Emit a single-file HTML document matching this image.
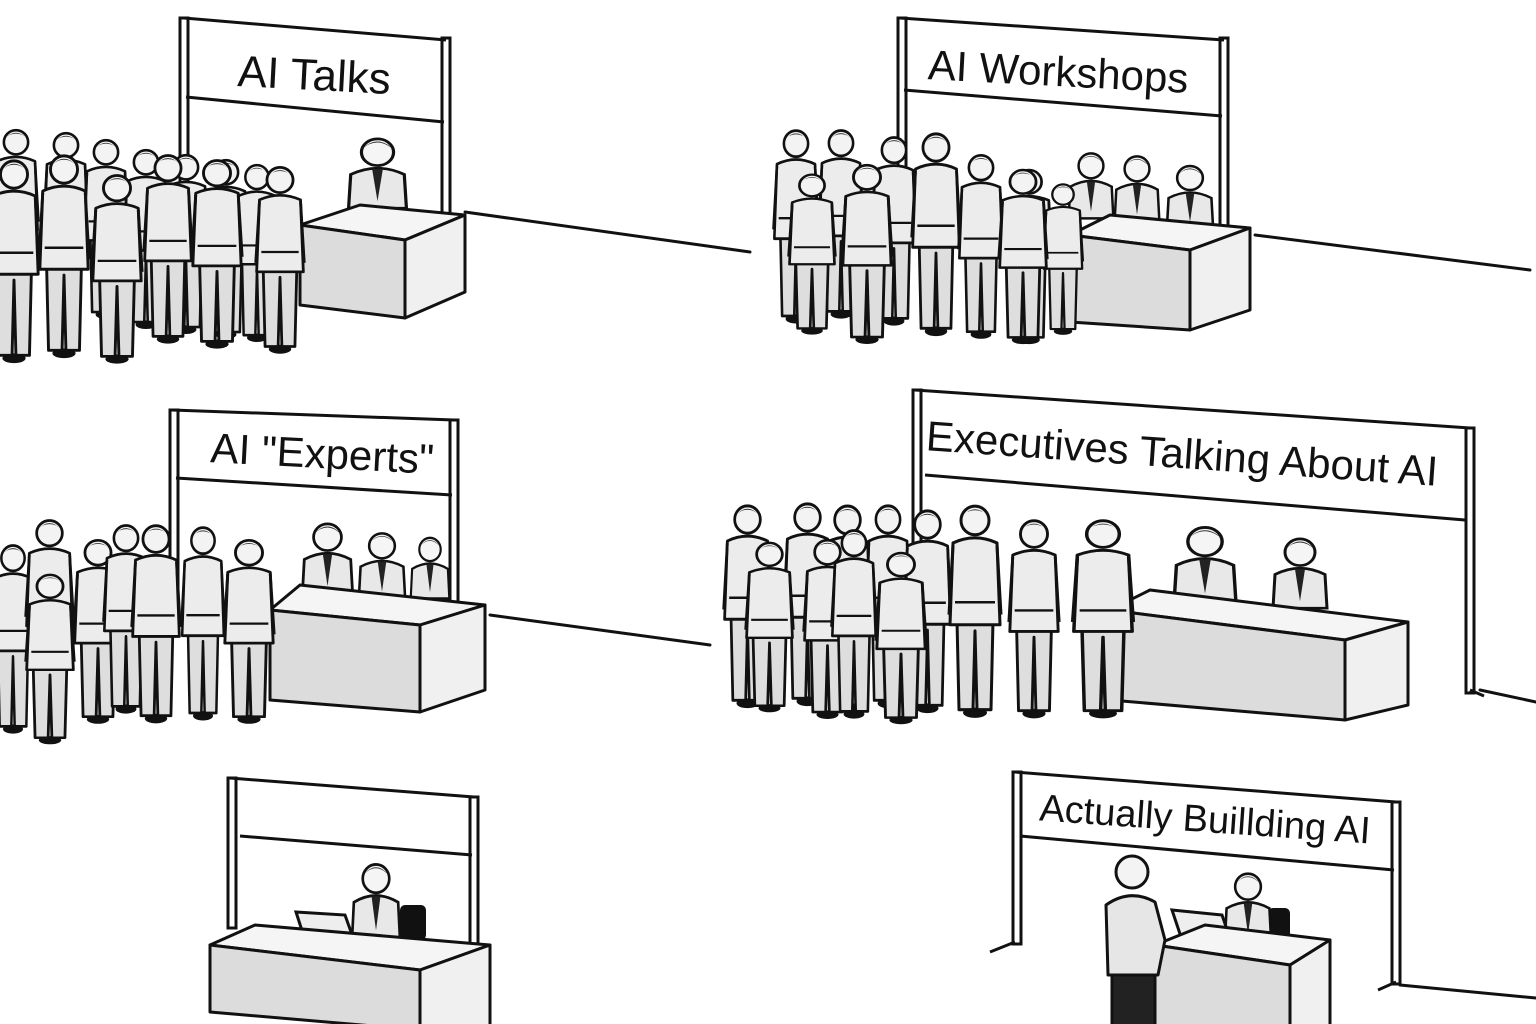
<!DOCTYPE html>
<html><head><meta charset="utf-8"><style>
html,body{margin:0;padding:0;background:#fff;}
svg{display:block;}
text{font-family:"Liberation Sans",sans-serif;fill:#111;}
</style></head><body>
<svg width="1536" height="1024" viewBox="0 0 1536 1024" xmlns="http://www.w3.org/2000/svg">
<defs>
<symbol id="p" viewBox="0 0 60 220" preserveAspectRatio="none">
  <ellipse cx="30" cy="208" rx="12" ry="5" fill="#111"/>
  <path d="M12 118 L14 205 L28 205 L30 128 L32 205 L46 205 L48 118 Z" fill="#dedede" stroke="#111" stroke-width="3" stroke-linejoin="round"/>
  <path d="M8 42 Q30 32 52 42 L55 122 L5 122 Z" fill="#ececec" stroke="#111" stroke-width="3" stroke-linejoin="round"/>
  <path d="M8 44 L4 112 M52 44 L56 112" stroke="#111" stroke-width="3" fill="none"/>
  <line x1="10" y1="100" x2="50" y2="100" stroke="#111" stroke-width="2.5"/>
  <circle cx="30" cy="20" r="14" fill="#f3f3f3" stroke="#111" stroke-width="3"/>
  <path d="M17 16 Q30 2 43 16 Q38 10 30 10 Q22 10 17 16Z" fill="#333"/>
</symbol>
<symbol id="s" viewBox="0 0 70 90" preserveAspectRatio="none">
  <path d="M8 88 L10 50 Q35 36 60 50 L62 88 Z" fill="#e8e8e8" stroke="#111" stroke-width="3"/>
  <path d="M30 44 L35 80 L40 44" fill="#222"/>
  <circle cx="35" cy="25" r="15" fill="#f5f5f5" stroke="#111" stroke-width="3"/>
  <path d="M20 22 Q35 4 50 22 Q42 14 35 14 Q27 14 20 22Z" fill="#333"/>
</symbol>
</defs>
<g stroke="#111" stroke-width="3" fill="none" stroke-linecap="round">
  <!-- floor lines -->
  <line x1="465" y1="212" x2="750" y2="252"/>
  <line x1="1255" y1="235" x2="1530" y2="270"/>
  <line x1="490" y1="615" x2="710" y2="645"/>
  <line x1="1480" y1="690" x2="1536" y2="702"/>
  <line x1="1400" y1="985" x2="1536" y2="998"/>
</g>

<!-- Booth 1 -->
<g stroke="#111" stroke-width="3">
  <rect x="180" y="18" width="8" height="204" fill="#fff"/>
  <rect x="442" y="38" width="8" height="187" fill="#fff"/>
  <line x1="184" y1="18" x2="446" y2="40"/>
  <line x1="186" y1="97" x2="444" y2="122"/>
</g>
<text x="314" y="90" font-size="44" text-anchor="middle" transform="rotate(3 314 80)">AI Talks</text>
<use href="#s" x="340" y="130" width="75" height="80"/>
<g stroke="#111" stroke-width="3" stroke-linejoin="round">
  <polygon points="300,225 360,205 465,215 405,240" fill="#f5f5f5"/>
  <polygon points="300,225 405,240 405,318 300,305" fill="#dcdcdc"/>
  <polygon points="405,240 465,215 465,292 405,318" fill="#f0f0f0"/>
</g>
<g>
  <use href="#p" x="-10" y="125" width="52" height="190"/>
  <use href="#p" x="40" y="128" width="52" height="190"/>
  <use href="#p" x="80" y="135" width="52" height="190"/>
  <use href="#p" x="120" y="145" width="52" height="190"/>
  <use href="#p" x="160" y="150" width="52" height="190"/>
  <use href="#p" x="200" y="155" width="52" height="190"/>
  <use href="#p" x="232" y="160" width="50" height="188"/>
  <use href="#p" x="-15" y="155" width="58" height="215"/>
  <use href="#p" x="35" y="150" width="58" height="215"/>
  <use href="#p" x="88" y="170" width="58" height="200"/>
  <use href="#p" x="140" y="150" width="56" height="200"/>
  <use href="#p" x="188" y="155" width="58" height="200"/>
  <use href="#p" x="252" y="162" width="56" height="198"/>
</g>

<!-- Booth 2 -->
<g stroke="#111" stroke-width="3">
  <rect x="898" y="18" width="8" height="217" fill="#fff"/>
  <rect x="1220" y="38" width="8" height="195" fill="#fff"/>
  <line x1="900" y1="18" x2="1224" y2="40"/>
  <line x1="904" y1="90" x2="1222" y2="116"/>
</g>
<text x="1058" y="86" font-size="42" text-anchor="middle" transform="rotate(3 1058 76)">AI Workshops</text>
<use href="#s" x="1062" y="145" width="58" height="75"/>
<use href="#s" x="1108" y="148" width="58" height="75"/>
<use href="#s" x="1160" y="158" width="60" height="72"/>
<g stroke="#111" stroke-width="3" stroke-linejoin="round">
  <polygon points="1070,235 1110,215 1250,228 1190,250" fill="#f5f5f5"/>
  <polygon points="1070,235 1190,250 1190,330 1070,322" fill="#dcdcdc"/>
  <polygon points="1190,250 1250,228 1250,310 1190,330" fill="#f0f0f0"/>
</g>
<g>
  <use href="#p" x="770" y="125" width="52" height="205"/>
  <use href="#p" x="815" y="125" width="52" height="200"/>
  <use href="#p" x="868" y="132" width="52" height="200"/>
  <use href="#p" x="908" y="128" width="56" height="215"/>
  <use href="#p" x="955" y="150" width="52" height="195"/>
  <use href="#p" x="1002" y="165" width="54" height="185"/>
  <use href="#p" x="1040" y="180" width="46" height="160"/>
  <use href="#p" x="785" y="170" width="54" height="170"/>
  <use href="#p" x="838" y="160" width="58" height="190"/>
  <use href="#p" x="995" y="165" width="56" height="185"/>
</g>

<!-- Booth 3 -->
<g stroke="#111" stroke-width="3">
  <rect x="170" y="410" width="8" height="190" fill="#fff"/>
  <rect x="450" y="420" width="8" height="190" fill="#fff"/>
  <line x1="172" y1="410" x2="454" y2="420"/>
  <line x1="176" y1="478" x2="452" y2="495"/>
</g>
<text x="322" y="468" font-size="42" text-anchor="middle" transform="rotate(3 322 458)">AI "Experts"</text>
<use href="#s" x="295" y="515" width="65" height="80"/>
<use href="#s" x="352" y="525" width="60" height="75"/>
<use href="#s" x="405" y="530" width="50" height="70"/>
<g stroke="#111" stroke-width="3" stroke-linejoin="round">
  <polygon points="270,610 300,585 485,605 420,625" fill="#f5f5f5"/>
  <polygon points="270,610 420,625 420,712 270,700" fill="#dcdcdc"/>
  <polygon points="420,625 485,605 485,690 420,712" fill="#f0f0f0"/>
</g>
<g>
  <use href="#p" x="-12" y="540" width="50" height="200"/>
  <use href="#p" x="22" y="515" width="55" height="200"/>
  <use href="#p" x="70" y="535" width="56" height="195"/>
  <use href="#p" x="100" y="520" width="52" height="200"/>
  <use href="#p" x="128" y="520" width="56" height="210"/>
  <use href="#p" x="178" y="522" width="50" height="205"/>
  <use href="#p" x="220" y="535" width="58" height="195"/>
  <use href="#p" x="22" y="570" width="56" height="180"/>
</g>

<!-- Booth 4 -->
<g stroke="#111" stroke-width="3">
  <rect x="913" y="390" width="8" height="210" fill="#fff"/>
  <rect x="1466" y="428" width="8" height="265" fill="#fff"/>
  <line x1="1470" y1="690" x2="1484" y2="696"/>
  <line x1="915" y1="390" x2="1470" y2="428"/>
  <line x1="925" y1="475" x2="1465" y2="520"/>
</g>
<text x="1182" y="468" font-size="42" text-anchor="middle" transform="rotate(4 1182 455)">Executives Talking About AI</text>
<use href="#s" x="1165" y="518" width="80" height="85"/>
<use href="#s" x="1265" y="530" width="70" height="80"/>
<g stroke="#111" stroke-width="3" stroke-linejoin="round">
  <polygon points="1110,610 1150,590 1408,622 1345,640" fill="#f5f5f5"/>
  <polygon points="1110,610 1345,640 1345,720 1110,700" fill="#dcdcdc"/>
  <polygon points="1345,640 1408,622 1408,705 1345,720" fill="#f0f0f0"/>
</g>
<g>
  <use href="#p" x="720" y="500" width="55" height="215"/>
  <use href="#p" x="780" y="498" width="55" height="215"/>
  <use href="#p" x="820" y="500" width="55" height="220"/>
  <use href="#p" x="862" y="500" width="52" height="215"/>
  <use href="#p" x="900" y="505" width="55" height="215"/>
  <use href="#p" x="945" y="500" width="60" height="225"/>
  <use href="#p" x="1005" y="515" width="58" height="210"/>
  <use href="#p" x="1068" y="515" width="70" height="210"/>
  <use href="#p" x="742" y="538" width="55" height="180"/>
  <use href="#p" x="800" y="535" width="55" height="190"/>
  <use href="#p" x="828" y="525" width="52" height="200"/>
  <use href="#p" x="872" y="548" width="58" height="182"/>
</g>

<!-- Booth 5 -->
<g stroke="#111" stroke-width="3">
  <rect x="228" y="778" width="8" height="150" fill="#fff"/>
  <rect x="470" y="797" width="8" height="150" fill="#fff"/>
  <line x1="230" y1="778" x2="474" y2="797"/>
  <line x1="240" y1="836" x2="472" y2="855"/>
</g>
<rect x="400" y="905" width="26" height="35" rx="5" fill="#111"/>
<use href="#s" x="345" y="855" width="62" height="85"/>
<polygon points="296,912 345,915 355,943 305,940" fill="#eee" stroke="#111" stroke-width="3"/>
<g stroke="#111" stroke-width="3" stroke-linejoin="round">
  <polygon points="210,945 255,925 490,945 420,970" fill="#f5f5f5"/>
  <polygon points="210,945 420,970 420,1030 210,1012" fill="#dcdcdc"/>
  <polygon points="420,970 490,945 490,1030 420,1030" fill="#f0f0f0"/>
</g>

<!-- Booth 6 -->
<g stroke="#111" stroke-width="3">
  <rect x="1013" y="772" width="8" height="172" fill="#fff"/>
  <line x1="1015" y1="942" x2="990" y2="952"/>
  <rect x="1392" y="802" width="8" height="182" fill="#fff"/>
  <line x1="1396" y1="982" x2="1378" y2="990"/>
  <line x1="1015" y1="772" x2="1396" y2="802"/>
  <line x1="1020" y1="836" x2="1394" y2="870"/>
</g>
<text x="1205" y="832" font-size="38" text-anchor="middle" transform="rotate(4 1205 820)">Actually Buillding AI</text>
<rect x="1268" y="908" width="22" height="32" rx="5" fill="#111"/>
<use href="#s" x="1218" y="865" width="60" height="78"/>
<polygon points="1172,910 1222,915 1232,944 1182,940" fill="#eee" stroke="#111" stroke-width="3"/>
<g stroke="#111" stroke-width="3" stroke-linejoin="round">
  <polygon points="1155,945 1205,925 1330,940 1290,965" fill="#f5f5f5"/>
  <polygon points="1155,945 1290,965 1290,1030 1155,1030" fill="#dcdcdc"/>
  <polygon points="1290,965 1330,940 1330,1030 1290,1030" fill="#f0f0f0"/>
</g>
<g stroke="#111" stroke-width="3" stroke-linejoin="round">
  <path d="M1112 1024 L1112 970 L1155 970 L1155 1024" fill="#222"/>
  <path d="M1106 905 Q1130 888 1155 902 L1165 940 L1158 975 L1108 975 Z" fill="#e6e6e6"/>
  <circle cx="1132" cy="872" r="16" fill="#f3f3f3"/>
</g>
</svg>
</body></html>
